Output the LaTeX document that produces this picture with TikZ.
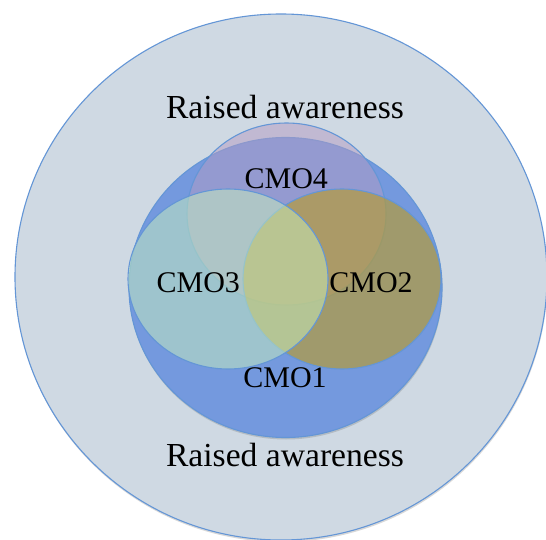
\documentclass[tikz,border=0pt]{standalone}
\usepackage{fontspec}
\setmainfont{Liberation Serif}
\usetikzlibrary{shadows}
\definecolor{outerfill}{RGB}{207,217,227}
\definecolor{edgeblue}{RGB}{100,150,214}
\definecolor{cmoone}{RGB}{116,153,222}
\definecolor{cmofour}{RGB}{180,155,195}
\definecolor{cmotwo}{RGB}{184,155,47}
\definecolor{cmothree}{RGB}{200,240,190}
\tikzset{
  ring/.style={draw=edgeblue, line width=1.1pt},
  bigtext/.style={font=\fontsize{33.6}{40}\selectfont, anchor=base, inner sep=0pt},
  cmotext/.style={font=\fontsize{30}{36}\selectfont, anchor=base, inner sep=0pt},
  softshadow/.style={drop shadow={shadow xshift=0.5pt, shadow yshift=-2pt, opacity=0.25, fill=black!60}}
}
\begin{document}
\begin{tikzpicture}[x=1pt,y=-1pt]
\useasboundingbox (0,0) rectangle (546,540);
% outer circle
\fill[white] (0,0) rectangle (546,540);
\path[ring, fill=outerfill, softshadow] (281,277) ellipse [x radius=266pt, y radius=263pt];
% CMO1
\path[ring, fill=cmoone, softshadow] (285.5,287.5) ellipse [x radius=156.5pt, y radius=150pt];
% CMO4
\path[ring, fill=cmofour, fill opacity=0.5] (286.5,214) ellipse [x radius=99.5pt, y radius=91pt];
% CMO1 label (beneath CMO2/CMO3)
\node[cmotext] (c1) at (285,387.3) {CMO1};
% CMO2
\path[ring, fill=cmotwo, fill opacity=0.65] (342,279) ellipse [x radius=99pt, y radius=90pt];
% CMO3
\path[ring, fill=cmothree, fill opacity=0.5] (228,279) ellipse [x radius=100pt, y radius=90pt];
% labels
\node[cmotext] (c4) at (286.3,188.3) {CMO4};
\node[cmotext] (c3) at (198.3,292.7) {CMO3};
\node[cmotext] (c2) at (371,292.7) {CMO2};
\node[bigtext] (rtop) at (285,118.5) {Raised awareness};
\node[bigtext] (rbot) at (285,466) {Raised awareness};
\end{tikzpicture}
\end{document}
